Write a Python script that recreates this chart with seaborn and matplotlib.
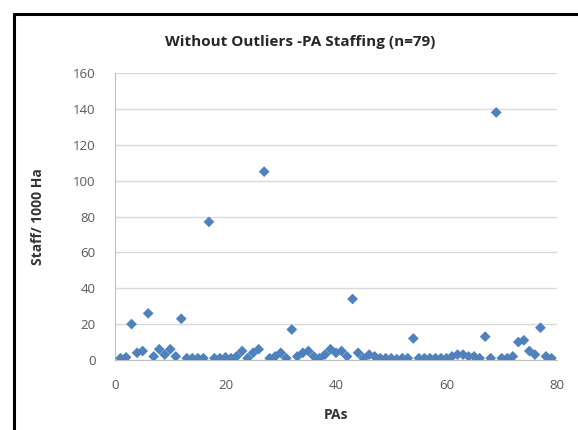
import matplotlib
matplotlib.use("Agg")
import matplotlib.pyplot as plt
from matplotlib.lines import Line2D
import seaborn as sns
import pandas as pd

pa_index = list(range(1, 80))
staff_per_1000ha = [
    1, 1.5, 20, 4, 5, 26, 2, 6, 3, 6,
    2, 23, 1, 1, 1, 1, 77, 1, 1, 1.5,
    1, 2, 5, 1, 4, 6, 105, 1, 2, 4,
    1, 17, 2, 4, 5, 2, 1, 3, 6, 4,
    5, 2, 34, 4, 1, 3, 2, 1, 1, 1,
    0.5, 1, 1, 12, 1, 1, 1, 1, 1, 1,
    2, 3, 3, 2, 2, 1, 13, 1, 138, 1,
    1, 2, 10, 11, 5, 3, 18, 2, 1,
]
x_ticks = [0, 20, 40, 60, 80]
y_ticks = [0, 20, 40, 60, 80, 100, 120, 140, 160]

title = "Without Outliers -PA Staffing (n=79)"
x_label = "PAs"
y_label = "Staff/ 1000 Ha"

df = pd.DataFrame({"PA": pa_index, "Staff": staff_per_1000ha})

sns.set_style("white")
plt.rcParams["font.family"] = ["Open Sans", "DejaVu Sans"]

fig = plt.figure(figsize=(5.78, 4.30), dpi=100)
ax = fig.add_axes([115 / 578, 1 - 360 / 430, (557 - 115) / 578, (360 - 73) / 430])

sns.scatterplot(data=df, x="PA", y="Staff", marker="D", s=30, color="#4F81BD",
                edgecolor="none", linewidth=0, ax=ax, zorder=3)

ax.set_xlim(0, 80)
ax.set_ylim(0, 160)
ax.set_xticks(x_ticks)
ax.set_yticks(y_ticks)
ax.yaxis.grid(True, color="#D9D9D9", linewidth=1.0)
ax.xaxis.grid(False)
for side in ["top", "right"]:
    ax.spines[side].set_visible(False)
ax.spines["left"].set_color("#BFBFBF")
ax.spines["bottom"].set_color("#BFBFBF")
ax.tick_params(axis="both", length=0, labelsize=9.5, labelcolor="#595959")
ax.tick_params(axis="y", pad=14)
ax.tick_params(axis="x", pad=14)

ax.set_xlabel(x_label, fontsize=10, fontweight="bold", color="#333333")
ax.set_ylabel(y_label, fontsize=10, fontweight="bold", color="#333333")
ax.yaxis.set_label_coords((45 - 115) / 442, 0.5)
ax.xaxis.set_label_coords(0.5, (360 - 408) / 287)
fig.text(300 / 578, 1 - 42 / 430, title, ha="center", va="center",
         fontsize=11, fontweight="bold", color="#262626")

# outer frame lines (top and left)
fig.add_artist(Line2D([14 / 578, 14 / 578], [0, 1 - 14 / 430], transform=fig.transFigure,
                      color="black", linewidth=2.2))
fig.add_artist(Line2D([14 / 578, 1], [1 - 14 / 430, 1 - 14 / 430], transform=fig.transFigure,
                      color="black", linewidth=2.2))

fig.savefig("out.png", dpi=100)
